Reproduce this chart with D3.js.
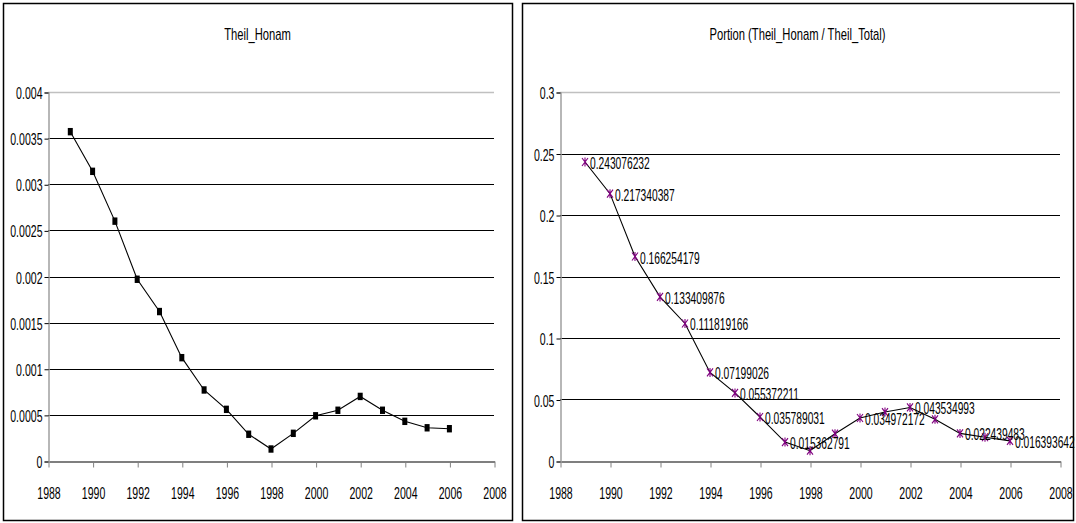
<!DOCTYPE html>
<html>
<head>
<meta charset="utf-8">
<script src="https://cdn.jsdelivr.net/npm/d3@7"></script>
<style>
  html, body { margin: 0; padding: 0; background: #fff; }
  svg { display: block; }
  text { font-family: "Liberation Sans", Arial, sans-serif; fill: #000; }
</style>
</head>
<body>
<svg id="chart" width="1076" height="523"></svg>
<script>
// Years covered by both series
const years = [1989, 1990, 1991, 1992, 1993, 1994, 1995, 1996, 1997,
               1998, 1999, 2000, 2001, 2002, 2003, 2004, 2005, 2006];

// Theil index for the Honam region
const theilHonam = [0.00357, 0.00314, 0.00260, 0.00197, 0.00162, 0.00112,
                    0.00077, 0.00056, 0.00029, 0.00013, 0.00030, 0.00049,
                    0.00055, 0.00070, 0.00055, 0.00043, 0.00036, 0.00035];

// Share of Honam in the total Theil index
const portion = [0.243076232, 0.217340387, 0.166254179, 0.133409876, 0.111819166,
                 0.07199026, 0.055372211, 0.035789031, 0.015362791, 0.0084,
                 0.0222, 0.034972172, 0.0398, 0.043534993, 0.0339,
                 0.022439483, 0.0193, 0.016393642];

// Years whose value is written next to the marker
const labelledYears = [1989, 1990, 1991, 1992, 1993, 1994, 1995, 1996, 1997,
                       2000, 2002, 2004, 2006];

// Axis ticks
const xTicks = [1988, 1990, 1992, 1994, 1996, 1998, 2000, 2002, 2004, 2006, 2008];
const leftYTicks = [0, 0.0005, 0.001, 0.0015, 0.002, 0.0025, 0.003, 0.0035, 0.004];
const rightYTicks = [0, 0.05, 0.1, 0.15, 0.2, 0.25, 0.3];

const leftTitle = "Theil_Honam";
const rightTitle = "Portion (Theil_Honam / Theil_Total)";

const SX = 0.66;          // horizontal squeeze applied to axis and title text
const SX_LABEL = 0.64;    // squeeze for the value labels
const FONT = 16;

const svg = d3.select("#chart");

function drawPanel(opt) {
  const g = svg.append("g");

  // outer frame
  g.append("rect")
    .attr("x", opt.frame[0] + 0.5).attr("y", opt.frame[1] + 0.5)
    .attr("width", opt.frame[2] - opt.frame[0]).attr("height", opt.frame[3] - opt.frame[1])
    .attr("fill", "#fff").attr("stroke", "#000").attr("stroke-width", 1.5);

  // title
  g.append("text")
    .attr("transform", `translate(${(opt.frame[0] + opt.frame[2]) / 2},40) scale(${SX},1)`)
    .attr("text-anchor", "middle")
    .style("font-size", "17px")
    .text(opt.title);

  const x = d3.scaleLinear().domain([1988, 2008]).range(opt.xRange);
  const y = d3.scaleLinear().domain([0, d3.max(opt.yTicks)]).range([461, 92]);

  // horizontal gridlines (top one is the light plot-area edge)
  const top = d3.max(opt.yTicks);
  g.append("g").selectAll("line")
    .data(opt.yTicks.filter(v => v > 0))
    .join("line")
    .attr("x1", opt.xRange[0]).attr("x2", opt.xRange[1])
    .attr("y1", d => Math.round(y(d)) + 0.5).attr("y2", d => Math.round(y(d)) + 0.5)
    .attr("stroke", d => d === top ? "#c0c0c0" : "#000")
    .attr("stroke-width", d => d === top ? 1.5 : 1.2);

  // y axis
  const yAxis = g.append("g")
    .attr("transform", `translate(${opt.xRange[0] + 0.5},0.5)`)
    .call(d3.axisLeft(y).tickValues(opt.yTicks).tickSize(4).tickPadding(6)
      .tickFormat(d => String(d)));
  yAxis.select(".domain").attr("stroke", "#a0a0a0").attr("stroke-width", 1.5);
  yAxis.selectAll(".tick line").attr("stroke", "#000");
  yAxis.selectAll(".tick text")
    .attr("x", null).attr("dy", null)
    .attr("transform", `translate(-6,6) scale(${SX},1)`)
    .style("font-size", FONT + "px").style("font-family", null).attr("fill", "#000");

  // x axis
  const xAxis = g.append("g")
    .attr("transform", `translate(0.5,${461.5})`)
    .call(d3.axisBottom(x).tickValues(xTicks).tickSize(6).tickSizeOuter(0)
      .tickFormat(d => String(d)));
  xAxis.select(".domain").attr("stroke", "#000").attr("stroke-width", 1.2);
  xAxis.selectAll(".tick line").attr("stroke", "#808080");
  xAxis.selectAll(".tick text")
    .attr("y", null).attr("dy", null)
    .attr("transform", `translate(0,37) scale(${SX},1)`)
    .style("font-size", FONT + "px").style("font-family", null).attr("fill", "#000");
  yAxis.raise();

  // series line
  const pts = years.map((yr, i) => ({ yr, v: opt.values[i] }));
  g.append("path")
    .datum(pts)
    .attr("fill", "none").attr("stroke", "#000").attr("stroke-width", 1.1)
    .attr("d", d3.line().x(d => x(d.yr)).y(d => y(d.v)));

  opt.marker(g, pts, x, y);

  if (opt.labels) {
    g.append("g").selectAll("text")
      .data(pts.filter(d => opt.labels.includes(d.yr)))
      .join("text")
      .attr("transform", d => `translate(${x(d.yr) + 5},${y(d.v) + 7}) scale(${SX_LABEL},1)`)
      .style("font-size", FONT + "px")
      .text(d => String(d.v));
  }
}

drawPanel({
  frame: [3, 3, 512, 520],
  title: leftTitle,
  xRange: [48, 494],
  yTicks: leftYTicks,
  values: theilHonam,
  marker: (g, pts, x, y) => {
    g.append("g").selectAll("rect")
      .data(pts).join("rect")
      .attr("x", d => x(d.yr) - 2.5).attr("y", d => y(d.v) - 3.7)
      .attr("width", 5).attr("height", 7.4)
      .attr("fill", "#000");
  }
});

drawPanel({
  frame: [522, 3, 1073, 520],
  title: rightTitle,
  xRange: [560, 1060],
  yTicks: rightYTicks,
  values: portion,
  labels: labelledYears,
  marker: (g, pts, x, y) => {
    const m = g.append("g").selectAll("g")
      .data(pts).join("g")
      .attr("transform", d => `translate(${x(d.yr)},${y(d.v)})`)
      .attr("stroke", "#800080").attr("stroke-width", 1.1).attr("fill", "none");
    m.append("path").attr("d", "M-3,-4L3,4M3,-4L-3,4M0,-4.5V4.5");
  }
});
</script>
</body>
</html>
